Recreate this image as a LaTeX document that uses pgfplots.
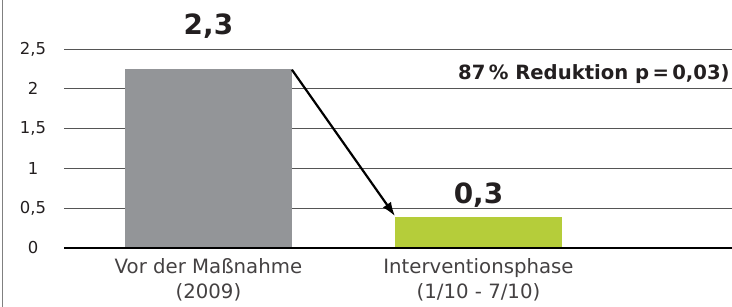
\documentclass[border=0pt]{standalone}
\usepackage{pgfplots}
\pgfplotsset{compat=1.18}
\usepackage{fontspec}
\setmainfont{DejaVu Sans}
\usetikzlibrary{arrows.meta}
\definecolor{bargray}{HTML}{939598}
\definecolor{bargreen}{HTML}{B5CD3A}
\definecolor{txt}{HTML}{231F20}
\definecolor{gridc}{HTML}{555555}
\begin{document}
\begin{tikzpicture}
\path[use as bounding box] (-64bp,-59bp) rectangle (668bp,248bp);
\draw[color=gray, line width=1.5bp] (-61.5bp,-59bp) -- (-61.5bp,248bp);
\begin{axis}[
  at={(0,0)}, anchor=south west,
  scale only axis, width=668bp, height=199bp,
  xmin=-0.535, xmax=1.939, ymin=0, ymax=2.5,
  axis line style={draw=none},
  major tick length=0pt,
  xtick={0,1},
  xticklabels={{Vor der Maßnahme\\(2009)},{Interventionsphase\\(1/10 - 7/10)}},
  xticklabel style={align=center, font=\fontsize{19.8}{25.5}\selectfont, text=txt!85, yshift=-7bp},
  ytick={0,0.5,1,1.5,2,2.5},
  yticklabels={0,{0,5},1,{1,5},2,{2,5}},
  yticklabel style={anchor=center, xshift=-31bp, font=\fontsize{16.5}{19}\selectfont, text=txt},
  ymajorgrids, grid style={color=gridc, line width=0.9bp},
  clip=false,
]
\addplot[ybar, bar width=167bp, bar shift=0pt, fill=bargray, draw=none] coordinates {(0,2.25)};
\addplot[ybar, bar width=167bp, bar shift=0pt, fill=bargreen, draw=none] coordinates {(1,0.39)};
\draw[black, line width=1.2bp] (axis cs:-0.535,0) -- (axis cs:1.939,0);
\draw[black, line width=2.2bp, -{Latex[length=14bp,width=10bp]}] (axis cs:0.309,2.24) -- (axis cs:0.691,0.40);
\node[anchor=base, font=\fontsize{28}{30}\selectfont\bfseries, text=txt, inner sep=0pt] at (axis cs:0,2.676) {2,3};
\node[anchor=base, font=\fontsize{28}{30}\selectfont\bfseries, text=txt, inner sep=0pt] at (axis cs:1,0.565) {0,3};
\node[anchor=base east, font=\fontsize{19.7}{22}\selectfont\bfseries, text=txt, inner sep=0pt] at (axis cs:1.931,2.12) {87\,\%~Reduktion p\,=\,0,03)};
\end{axis}
\end{tikzpicture}
\end{document}
